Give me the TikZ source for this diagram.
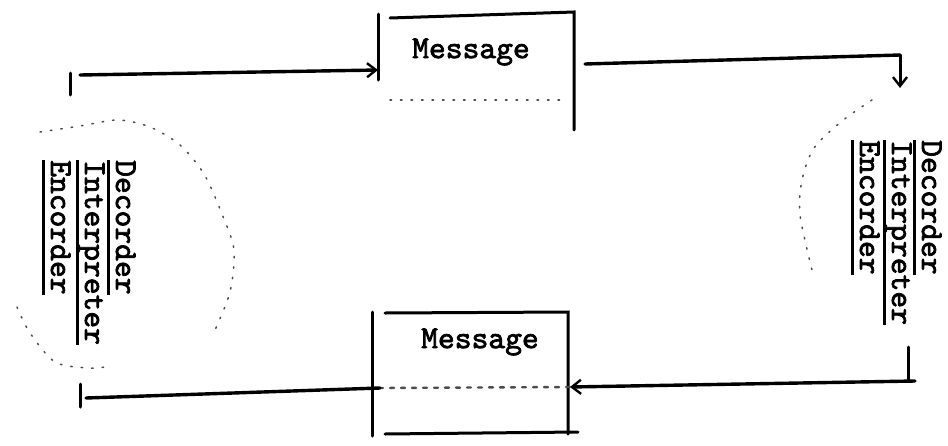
\documentclass[tikz,border=0pt]{standalone}
\usepackage{fontspec}
\newfontfamily\typew{lmmono10-regular.otf}[FakeBold=2.2]
\usetikzlibrary{arrows.meta}
\begin{document}
\begin{tikzpicture}[x=1pt,y=-1pt,
  wire/.style={line width=3.4pt,line cap=round},
  thinwire/.style={line width=3pt,line cap=round},
  dots/.style={line width=1.5pt,dash pattern=on 1.5pt off 9pt,line cap=round,black!70},
  arr/.style={-{Straight Barb[length=9pt,width=14pt,line width=2.4pt]}},
  msg/.style={font=\typew\fontsize{32}{34}\selectfont,inner sep=0pt},
  vword/.style={font=\typew\fontsize{32}{34}\selectfont,rotate=-90,anchor=base west,inner sep=0pt,text depth=7pt},
  uline/.style={line width=3.2pt}]
\path[use as bounding box,fill=white] (0,0) rectangle (948,445);

% ---------- message boxes ----------
\node[msg] (m1) at (471,52) {Message};
\node[msg] (m2) at (480,342) {Message};

% top box outline
\coordinate (b1tl) at (378,14);
\coordinate (b1bl) at (378,80);
\coordinate (b1tt) at (390,18);
\coordinate (b1tr) at (574,12);
\coordinate (b1br) at (574,130);
\draw[thinwire] (b1tl) -- (b1bl);
\draw[thinwire] (b1tt) -- (b1tr) -- (b1br);
\coordinate (b1dl) at (390,100);
\coordinate (b1dr) at (565,100);
\draw[dots] (b1dl) -- (b1dr);

% bottom box outline
\coordinate (b2tl) at (372,312);
\coordinate (b2bl) at (372,436);
\coordinate (b2tt) at (385,313);
\coordinate (b2tr) at (568,312);
\coordinate (b2br) at (568,434);
\coordinate (b2bb) at (385,434);
\coordinate (b2be) at (578,432);
\draw[thinwire] (b2tl) -- (b2bl);
\draw[thinwire] (b2tt) -- (b2tr) -- (b2br);
\draw[thinwire] (b2bb) -- (b2be);

% ---------- connectors ----------
\coordinate (tlv1) at (70,73);
\coordinate (tlv2) at (70,95);
\draw[thinwire] (tlv1) -- (tlv2);
\coordinate (tl) at (80,75);
\coordinate (tin) at (378,70);
\draw[wire,arr] (tl) -- (tin);
\coordinate (tout) at (585,64);
\coordinate (tr) at (900,55);
\coordinate (trd) at (900,88);
\draw[wire] (tout) -- (tr);
\draw[thinwire,arr] (tr) -- (trd);

\coordinate (brv1) at (908,347);
\coordinate (brv2) at (908,381);
\draw[thinwire] (brv1) -- (brv2);
\coordinate (br) at (915,381);
\coordinate (bin) at (570,387);
\draw[wire,arr] (br) -- (bin);
\coordinate (bdl) at (380,388);
\draw[dots,line width=2.4pt,dash pattern=on 4pt off 7pt] (bin) -- (bdl);
\coordinate (bl) at (86,398);
\draw[wire] (bdl) -- (bl);
\coordinate (blv1) at (80,384);
\coordinate (blv2) at (80,407);
\draw[thinwire] (blv1) -- (blv2);

% ---------- rotated labels, left ----------
\node[vword] (ld) at (116,160) {Decorder};
\node[vword] (li) at (85,160) {Interpreter};
\node[vword] (le) at (51,160) {Encorder};
\foreach \n in {ld,li,le}
  \draw[uline] (\n.south west) -- (\n.south east);

% ---------- rotated labels, right ----------
\node[vword] (rd) at (922,140) {Decorder};
\node[vword] (ri) at (892,140) {Interpreter};
\node[vword] (re) at (860,140) {Encorder};
\foreach \n in {rd,ri,re}
  \draw[uline] (\n.south west) -- (\n.south east);

% ---------- dotted arcs ----------
\draw[dots] plot[smooth] coordinates {(40,132) (80,126) (118,120) (150,127) (180,145) (204,174) (222,214) (234,250) (230,292) (215,330)};
\draw[dots] plot[smooth] coordinates {(17,307) (30,333) (55,362) (88,368) (105,367)};
\draw[dots] plot[smooth] coordinates {(872,100) (842,121) (814,148) (802,180) (800,215) (812,270)};
\end{tikzpicture}
\end{document}
